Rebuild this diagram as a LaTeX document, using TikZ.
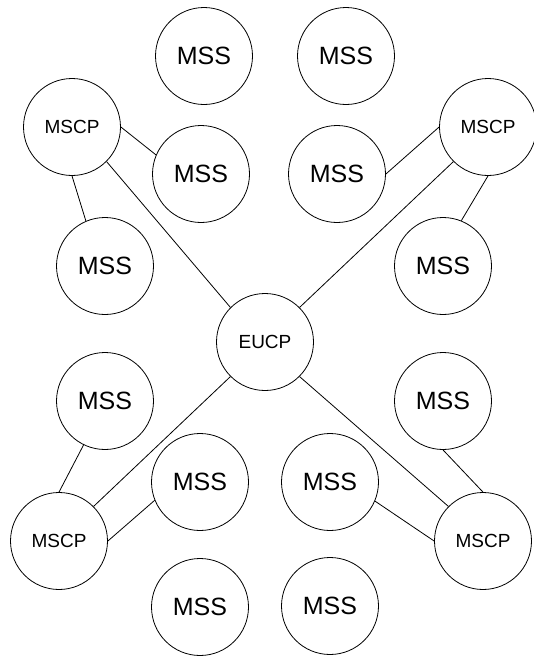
\documentclass[tikz,border=0pt]{standalone}
\usepackage{fontspec}
\setmainfont{Liberation Sans}
\begin{document}
\begin{tikzpicture}[x=1pt,y=-1pt,
  nd/.style={draw=black,circle,line width=0.8pt,inner sep=0pt,minimum size=97pt},
  mss/.style={nd,font=\fontsize{25}{30}\selectfont},
  ctl/.style={nd,font=\fontsize{19}{23}\selectfont},
  link/.style={draw=black,line width=0.8pt}]
\fill[white] (0,0) rectangle (534,657);
\useasboundingbox (0,0) rectangle (534,657);
\clip (0,0) rectangle (534,657);
\node[mss] (m1) at (204,56) {MSS};
\node[mss] (m2) at (346,56) {MSS};
\node[ctl] (tl) at (72,127) {MSCP};
\node[mss] (m3) at (201,174) {MSS};
\node[mss] (m4) at (337,174) {MSS};
\node[ctl] (tr) at (488,127) {MSCP};
\node[mss] (m5) at (105,266) {MSS};
\node[mss] (m6) at (443,266) {MSS};
\node[ctl] (eu) at (265,342) {EUCP};
\node[mss] (m7) at (105,401) {MSS};
\node[mss] (m8) at (443,401) {MSS};
\node[mss] (m9) at (200,482) {MSS};
\node[mss] (m10) at (330,482) {MSS};
\node[ctl] (bl) at (59,541) {MSCP};
\node[ctl] (br) at (483,541) {MSCP};
\node[mss] (m11) at (200,607) {MSS};
\node[mss] (m12) at (330,606) {MSS};
\draw[link] (tl.east) -- (m3.157.6);
\draw[link] (tl.south) -- (m5.113.5);
\draw[link] (tl.south east) -- (eu.north west);
\draw[link] (tr.west) -- (m4.east);
\draw[link] (tr.south west) -- (eu.north east);
\draw[link] (tr.south) -- (m6.68.6);
\draw[link] (m7.244.4) -- (bl.north);
\draw[link] (eu.south west) -- (bl.north east);
\draw[link] (m9.202.9) -- (bl.east);
\draw[link] (eu.south east) -- (br.north west);
\draw[link] (m8.south) -- (br.north);
\draw[link] (m10.-23) -- (br.west);
\end{tikzpicture}
\end{document}
